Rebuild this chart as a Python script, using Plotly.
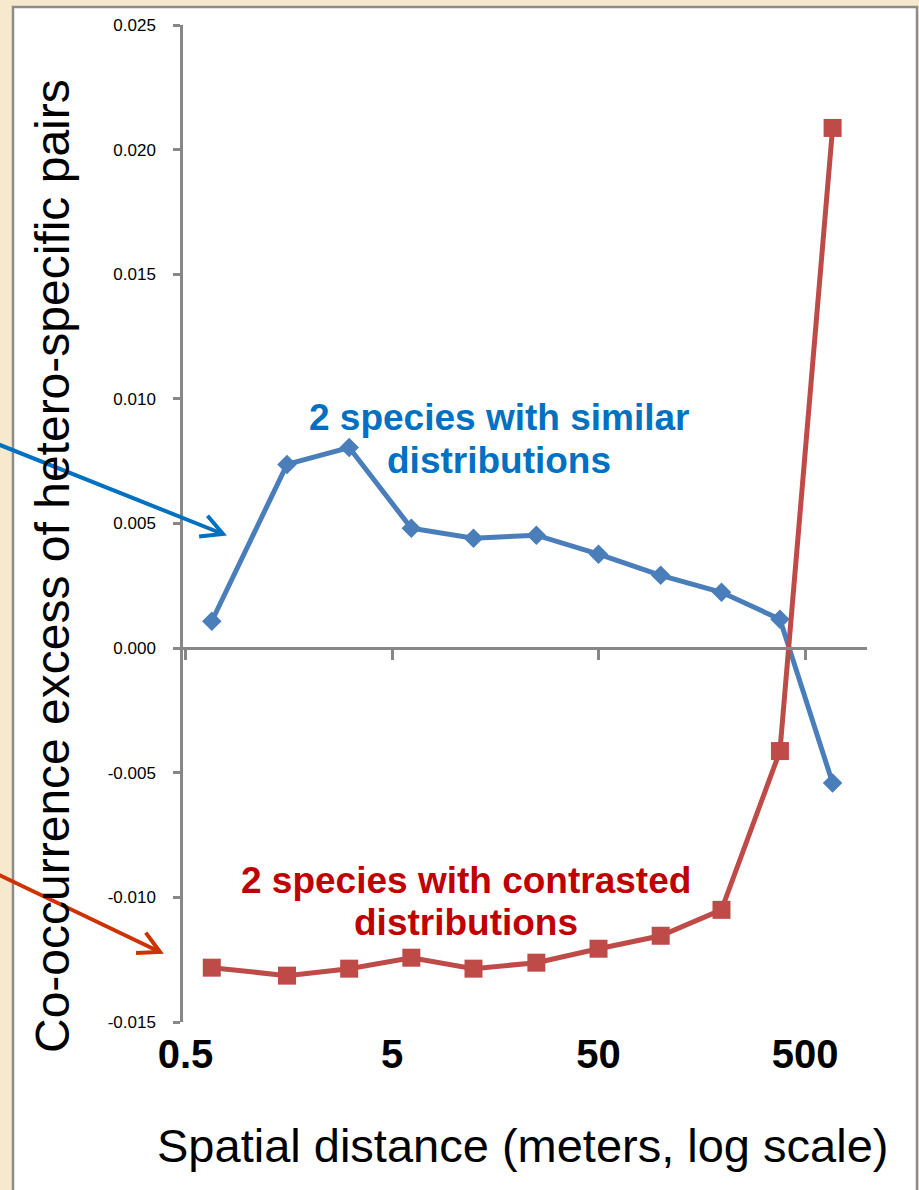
import plotly.graph_objects as go
import math

# ---- data ----
distance_m = [0.67, 1.55, 3.1, 6.2, 12.4, 25, 50, 100, 197, 378, 680]
similar_excess = [0.00108, 0.00737, 0.00805, 0.00481, 0.00441, 0.00453,
                  0.00377, 0.00292, 0.00224, 0.00116, -0.00541]
contrasted_excess = [-0.01282, -0.01314, -0.01286, -0.01242, -0.01286, -0.01262,
                     -0.01206, -0.01154, -0.01050, -0.00413, 0.02087]
x_tick_vals = [0.5, 5, 50, 500]
x_tick_text = ["0.5", "5", "50", "500"]
y_tick_vals = [-0.015, -0.010, -0.005, 0.0, 0.005, 0.010, 0.015, 0.020, 0.025]
y_tick_text = [f"{v:.3f}" for v in y_tick_vals]

X_RANGE = [0.486, 998]
Y_RANGE = [-0.015, 0.025]

W, H = 919, 1190
ML, MR, MT, MB = 183, 52, 25, 168
PW, PH = W - ML - MR, H - MT - MB


def px(x):
    return (x - ML) / PW


def py(y):
    return (H - MB - y) / PH


GRAY = "#878787"
BLUE_LINE = "#4A7EBB"
RED_LINE = "#BE4B48"
BEIGE = "#F7E9CE"
FONT = "Liberation Sans"

fig = go.Figure()
fig.add_trace(go.Scatter(
    x=distance_m, y=similar_excess, mode="lines+markers",
    line=dict(color=BLUE_LINE, width=5),
    marker=dict(symbol="diamond", size=15, color=BLUE_LINE),
    showlegend=False, cliponaxis=False, hoverinfo="skip"))
# the contrasted series sits on the overlaid x axis drawn through y = 0
fig.add_trace(go.Scatter(
    x=distance_m, y=contrasted_excess, mode="lines+markers", xaxis="x2",
    line=dict(color=RED_LINE, width=5),
    marker=dict(symbol="square", size=18, color=RED_LINE),
    showlegend=False, cliponaxis=False, hoverinfo="skip"))

zero_pos = (0 - Y_RANGE[0]) / (Y_RANGE[1] - Y_RANGE[0])
log_range = [math.log10(X_RANGE[0]), math.log10(X_RANGE[1])]

fig.update_layout(
    width=W, height=H,
    margin=dict(l=ML, r=MR, t=MT, b=MB, pad=0),
    paper_bgcolor=BEIGE,
    plot_bgcolor="white",
    font=dict(family=FONT, color="black"),
    xaxis=dict(type="log", range=log_range, showline=False, showgrid=False,
               zeroline=False, ticks="", tickvals=x_tick_vals, ticktext=x_tick_text,
               tickfont=dict(size=40, family=FONT, weight="bold"),
               ticklabelstandoff=5),
    xaxis2=dict(type="log", range=log_range, overlaying="x", anchor="free",
                position=zero_pos, side="bottom", showline=True, linecolor=GRAY,
                linewidth=2.5, ticks="outside", ticklen=10, tickwidth=2.5,
                tickcolor=GRAY, tickvals=x_tick_vals, showticklabels=False,
                showgrid=False, zeroline=False),
    yaxis=dict(range=Y_RANGE, showline=True, linecolor=GRAY, linewidth=2.5,
               ticks="outside", ticklen=7, tickwidth=2.5, tickcolor=GRAY,
               tickvals=y_tick_vals, ticktext=y_tick_text,
               tickfont=dict(size=17, family=FONT), ticklabelstandoff=14,
               showgrid=False, zeroline=False),
)

# white panel with gray border
fig.add_shape(type="rect", xref="paper", yref="paper",
              x0=px(13), x1=px(917), y0=py(1210), y1=py(7),
              fillcolor="white", line=dict(color="#8C8C8C", width=2.5),
              layer="below")


def add_arrow(start, tip, color, arm=24, spread=28):
    """Straight arrow with an open chevron head (decoration, pixel coords)."""
    (x0, y0), (x1, y1) = start, tip
    ang = math.atan2(y0 - y1, x0 - x1)
    pts = []
    for s in (-1, 1):
        a = ang + s * math.radians(spread)
        pts.append((x1 + arm * math.cos(a), y1 + arm * math.sin(a)))
    fig.add_shape(type="line", xref="paper", yref="paper",
                  x0=px(x0), y0=py(y0), x1=px(x1), y1=py(y1),
                  line=dict(color=color, width=4))
    path = (f"M{px(pts[0][0])},{py(pts[0][1])} L{px(x1)},{py(y1)} "
            f"L{px(pts[1][0])},{py(pts[1][1])}")
    fig.add_shape(type="path", xref="paper", yref="paper", path=path,
                  line=dict(color=color, width=4))


add_arrow((-30, 433), (223, 534), "#0070C0")
add_arrow((-30, 861), (160, 952), "#CC3300")

ann = []
ann.append(dict(text="Co-occurrence excess of hetero-specific pairs", textangle=-90,
                x=px(52), y=py(566), font=dict(size=48, family=FONT)))
ann.append(dict(text="Spatial distance (meters, log scale)",
                x=px(522), y=py(1145), font=dict(size=47, family=FONT)))
ann.append(dict(text="<b>2 species with similar</b>", x=px(499), y=py(417),
                font=dict(size=37, family=FONT, color="#0070C0")))
ann.append(dict(text="<b>distributions</b>", x=px(499), y=py(461),
                font=dict(size=37, family=FONT, color="#0070C0")))
ann.append(dict(text="<b>2 species with contrasted</b>", x=px(466), y=py(880),
                font=dict(size=37, family=FONT, color="#C00000")))
ann.append(dict(text="<b>distributions</b>", x=px(466), y=py(922),
                font=dict(size=37, family=FONT, color="#C00000")))
for a in ann:
    a.update(xref="paper", yref="paper", showarrow=False,
             xanchor="center", yanchor="middle")
fig.update_layout(annotations=ann)

fig.write_html(
    "out.html",
    config={"displayModeBar": False},
    post_script=("document.body.style.margin='0';"
                 "document.body.style.background='" + BEIGE + "';"
                 "window.dispatchEvent(new Event('resize'));"))
